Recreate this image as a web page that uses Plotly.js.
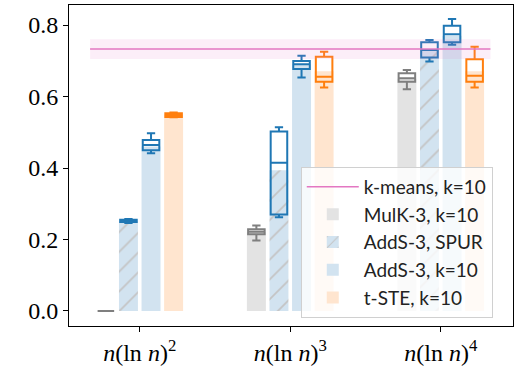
<!DOCTYPE html>
<html>
<head>
<meta charset="utf-8">
<script src="https://cdn.plot.ly/plotly-3.0.1.min.js"></script>
<style>
  body { margin: 0; background: #fff; }
  #chart { width: 529px; height: 389px; }
</style>
</head>
<body>
<div id="chart"></div>
<script>
// budget groups on the x axis
var groups = [0, 1, 2];
var groupLabels = ['<i>n</i>(ln <i>n</i>)<sup>2</sup>', '<i>n</i>(ln <i>n</i>)<sup>3</sup>', '<i>n</i>(ln <i>n</i>)<sup>4</sup>'];

// bar heights (mean) per method
var mulkBar = [0.0, 0.22, 0.65];
var spurBar = [0.253, 0.394, 0.73];
var addsBar = [0.46, 0.69, 0.77];
var tsteBar = [0.55, 0.671, 0.671];

// box stats per method: lower whisker, q1, median, q3, upper whisker
var mulkLo = [0.0, 0.197, 0.620];
var mulkQ1 = [0.0, 0.215, 0.641];
var mulkMed = [0.0, 0.222, 0.651];
var mulkQ3 = [0.0, 0.229, 0.665];
var mulkHi = [0.0, 0.239, 0.674];

var spurLo = [0.246, 0.262, 0.698];
var spurQ1 = [0.249, 0.270, 0.709];
var spurMed = [0.252, 0.415, 0.730];
var spurQ3 = [0.255, 0.502, 0.752];
var spurHi = [0.257, 0.514, 0.758];

var addsLo = [0.441, 0.653, 0.745];
var addsQ1 = [0.450, 0.677, 0.752];
var addsMed = [0.464, 0.690, 0.774];
var addsQ3 = [0.478, 0.699, 0.798];
var addsHi = [0.497, 0.714, 0.817];

var tsteLo = [0.542, 0.625, 0.625];
var tsteQ1 = [0.543, 0.641, 0.641];
var tsteMed = [0.548, 0.655, 0.658];
var tsteQ3 = [0.553, 0.711, 0.704];
var tsteHi = [0.555, 0.725, 0.739];

// k-means reference value and its spread
var kmeansMean = 0.733;
var kmeansLow = 0.705;
var kmeansHigh = 0.760;

var offsets = [-0.225, -0.075, 0.075, 0.225];
var barW = 0.126;
var boxW = 0.11;

function pos(k) {
  return groups.map(function (g) { return g + offsets[k]; });
}

var lineX = [-0.33, 2.33];

var band = {
  x: [lineX[0], lineX[1], lineX[1], lineX[0], lineX[0]],
  y: [kmeansLow, kmeansLow, kmeansHigh, kmeansHigh, kmeansLow],
  type: 'scatter',
  mode: 'lines',
  fill: 'toself',
  fillcolor: 'rgba(227,119,194,0.12)',
  line: {width: 0},
  hoverinfo: 'skip',
  showlegend: false
};

var kmeans = {
  x: lineX,
  y: [kmeansMean, kmeansMean],
  type: 'scatter',
  mode: 'lines',
  line: {color: '#e377c2', width: 1.5},
  name: 'k-means, k=10',
  legendrank: 1
};

var bar1 = {
  x: pos(0), y: mulkBar, type: 'bar', width: barW,
  marker: {color: '#e3e3e3'},
  name: 'MulK-3, k=10',
  legendrank: 2
};
var bar2 = {
  x: pos(1), y: spurBar, type: 'bar', width: barW,
  marker: {color: '#d2e3f0', pattern: {shape: '/', fgcolor: '#c4c4c4', bgcolor: '#d2e3f0', size: 14, solidity: 0.12}},
  name: 'AddS-3, SPUR',
  legendrank: 3
};
var bar3 = {
  x: pos(2), y: addsBar, type: 'bar', width: barW,
  marker: {color: '#d2e3f0'},
  name: 'AddS-3, k=10',
  legendrank: 4
};
var bar4 = {
  x: pos(3), y: tsteBar, type: 'bar', width: barW,
  marker: {color: '#ffe5cf'},
  name: 't-STE, k=10',
  legendrank: 5
};

function box(k, lo, q1, med, q3, hi, color) {
  return {
    type: 'box',
    x: pos(k),
    lowerfence: lo, q1: q1, median: med, q3: q3, upperfence: hi,
    width: boxW,
    whiskerwidth: 0.5,
    fillcolor: 'rgba(0,0,0,0)',
    line: {color: color, width: 2},
    hoverinfo: 'skip',
    showlegend: false
  };
}

var box1 = box(0, mulkLo, mulkQ1, mulkMed, mulkQ3, mulkHi, '#7f7f7f');
var box2 = box(1, spurLo, spurQ1, spurMed, spurQ3, spurHi, '#1f77b4');
var box3 = box(2, addsLo, addsQ1, addsMed, addsQ3, addsHi, '#1f77b4');
var box4 = box(3, tsteLo, tsteQ1, tsteMed, tsteQ3, tsteHi, '#ff7f0e');

var data = [bar1, bar2, bar3, bar4, box1, box2, box3, box4, band, kmeans];

var tickFont = {family: '"Liberation Serif", serif', size: 24, color: '#000'};

var layout = {
  width: 529,
  height: 389,
  margin: {l: 69, r: 16, t: 5, b: 63},
  paper_bgcolor: '#fff',
  plot_bgcolor: '#fff',
  barmode: 'overlay',
  boxmode: 'overlay',
  showlegend: true,
  legend: {
    x: 0.522, y: 0.496, xanchor: 'left', yanchor: 'top',
    bgcolor: 'rgba(255,255,255,0.8)',
    bordercolor: '#d0d0d0', borderwidth: 1,
    font: {family: 'Lato, sans-serif', size: 19, color: '#222'},
    traceorder: 'normal',
    itemwidth: 52,
    tracegroupgap: 0
  },
  xaxis: {
    range: [-0.47, 2.48],
    tickvals: groups,
    ticktext: groupLabels,
    ticks: 'outside', ticklen: 5, tickcolor: '#000',
    showline: true, mirror: true, linecolor: '#000', linewidth: 1,
    showgrid: false, zeroline: false,
    tickfont: tickFont
  },
  yaxis: {
    range: [-0.042, 0.856],
    tickvals: [0, 0.2, 0.4, 0.6, 0.8],
    tickformat: '.1f',
    ticks: 'outside', ticklen: 5, tickcolor: '#000',
    showline: true, mirror: true, linecolor: '#000', linewidth: 1,
    showgrid: false, zeroline: false,
    tickfont: tickFont
  }
};

Plotly.newPlot('chart', data, layout, {displayModeBar: false, staticPlot: true});
</script>
</body>
</html>
